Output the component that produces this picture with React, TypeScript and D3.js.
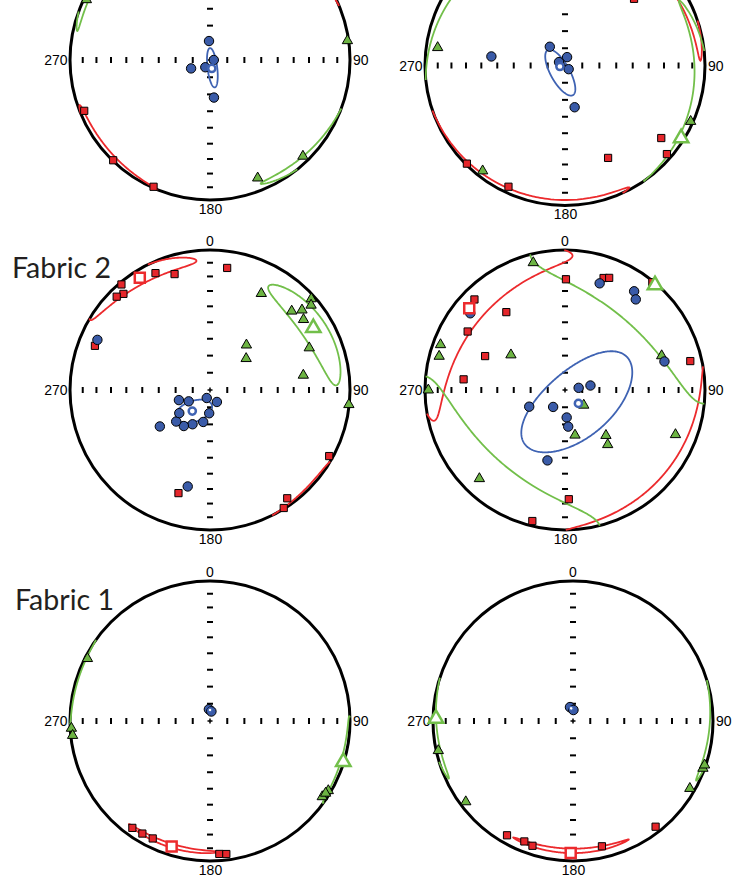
import React from 'react';
import * as d3 from 'd3';

// Each direction is [trend (deg), plunge (deg)], lower-hemisphere equal-area (Schmidt) net.
type TP = [number, number];
// Confidence ellipse: [mean trend, mean plunge, semi-major (deg), semi-minor (deg), major-axis rotation (deg)]
type Ell = [number, number, number, number, number];

// ---------- Panel A (top left) ----------
const kmaxA: TP[] = [[248, 3.5], [224, 0.5], [204, 1]];
const kintA: TP[] = [[82, 1], [136, 5], [158, 10], [296, 2]];
const kminA: TP[] = [[357, 79], [246, 78], [213, 85], [90, 87.8], [174, 68]];
const meanKmaxA: TP[] = [];
const meanKintA: TP[] = [];
const meanKminA: TP[] = [[168, 85]];
const ellKmaxA: Ell = [226, 0.5, 25, 3, 3];
const ellKintA: Ell = [310, -1, 28, 3, -9];
const ellKminA: Ell = [163, 85.3, 11.5, 2.8, -80];

// ---------- Panel B (top right) ----------
const kmaxB: TP[] = [[46, 32], [127, 15], [131, 4], [155, 28], [225, 1], [205, 5]];
const kintB: TP[] = [[278, 9], [114, 2], [218, 5]];
const kminB: TP[] = [[321, 76], [277, 46], [14, 85], [300, 86], [135, 87], [167, 65]];
const meanKmaxB: TP[] = [];
const meanKintB: TP[] = [[122, 2.5]];
const meanKminB: TP[] = [[259, 87]];
const ellKmaxB: Ell = [210, -1.75, 58, 5.3, -3.2];
const ellKintB: Ell = [115, 0, 55, 5.5, -8.5];
const ellKminB: Ell = [214, 85, 15, 5.5, 27];

// ---------- Panel C (Fabric 2, left) ----------
const kmaxC: TP[] = [[8, 13], [343, 14.5], [335, 8.7], [320, 1.8], [318, 8.4], [315, 6.4], [291, 13], [197, 24], [119, 3], [144.5, 5.6], [148, 0.7]];
const kintC: TP[] = [[28, 23], [46, 20], [49, 14], [53, 17.5], [48, 3], [50, 6.4], [67, 24], [81, 33], [39, 56], [49, 62], [96, 0.3]];
const kminC: TP[] = [[252, 71], [242, 76], [202, 85], [150, 82], [182, 76.5], [192, 71], [207, 67.6], [216, 64], [227, 63], [233, 67.6], [234, 53.5], [193, 30], [294, 13]];
const meanKmaxC: TP[] = [[328, 6]];
const meanKintC: TP[] = [[59, 15]];
const meanKminC: TP[] = [[220, 74]];
const ellKmaxC: Ell = [327, 5, 27, 6, 8];
const ellKintC: Ell = [59, 15, 28.5, 9, -6];
const ellKminC: Ell = [217, 74.5, 11, 6, -57];

// ---------- Panel D (Fabric 2, right) ----------
const kmaxD: TP[] = [[0.5, 22], [19, 16.5], [21.5, 15], [39, 1], [315, 9.4], [323, 31], [301, 20], [293, 38], [276, 28], [77, 9], [178, 23], [194, 4]];
const kintD: TP[] = [[346, 7], [290, 6], [285, 7.7], [303, 52], [70.5, 27.6], [270, 2.7], [129, 76], [167.5, 63], [138, 54], [142, 49], [112, 16], [224, 13]];
const kminD: TP[] = [[18, 21], [35, 15], [38, 19], [309, 14], [74, 27], [81, 82], [80, 75], [245, 67], [215, 78], [176.5, 74], [175, 68.6], [194, 47]];
const meanKmaxD: TP[] = [[310.5, 11]];
const meanKintD: TP[] = [[40.6, 1.4]];
const meanKminD: TP[] = [[135, 79]];
const ellKmaxD: Ell = [310, 7, 53, 15, 0];
const ellKintD: Ell = [40.6, 1.4, 55, 33, 0];
const ellKminD: Ell = [135, 79, 39.5, 19.5, 4.5];

// ---------- Panel E (Fabric 1, left) ----------
const kmaxE: TP[] = [[216, 6.3], [211, 6.9], [206, 7.4], [176, 5.4], [173, 4.8]];
const kintE: TP[] = [[297, 2], [267, 1], [264, 1.5], [124, 3.7], [120.5, 2.2], [122, 3]];
const kminE: TP[] = [[355, 83.2], [8, 84.4]];
const meanKmaxE: TP[] = [[197, 7]];
const meanKintE: TP[] = [[107, 0.5]];
const meanKminE: TP[] = [[0, 83.6]];
const ellKmaxE: Ell = [197, 7.5, 21, 1.5, 0];
const ellKintE: Ell = [107, 0.5, 19, 2, 0];
const ellKminE: Ell = [0, 83.6, 2.2, 1.6, 0];

// ---------- Panel F (Fabric 1, right) ----------
const kmaxF: TP[] = [[210, 6.4], [202, 8], [198, 7], [167, 9], [142, 4.7]];
const kintF: TP[] = [[257.6, 1.7], [233, 4.6], [120, 4.1], [110, 1.4], [108.5, 1]];
const kminF: TP[] = [[348, 81.8], [2, 83.6]];
const meanKmaxF: TP[] = [[181, 6.4]];
const meanKintF: TP[] = [[271, 2.4]];
const meanKminF: TP[] = [[352, 82.6]];
const ellKmaxF: Ell = [181, 8, 26, 1.7, 0];
const ellKintF: Ell = [270.5, 0, 25.5, 2.5, -6];
const ellKminF: Ell = [352, 82.6, 2.6, 1.4, 45];

// ---------- Labels ----------
const dirLabels = ['0', '90', '180', '270'];
const tickPlunges = [80, 70, 60, 50, 40, 30, 20, 10];
const fabricLabels = ['Fabric 2', 'Fabric 1'];

const panels = [
  { kmax: kmaxA, kint: kintA, kmin: kminA, mKmax: meanKmaxA, mKint: meanKintA, mKmin: meanKminA, eKmax: ellKmaxA, eKint: ellKintA, eKmin: ellKminA },
  { kmax: kmaxB, kint: kintB, kmin: kminB, mKmax: meanKmaxB, mKint: meanKintB, mKmin: meanKminB, eKmax: ellKmaxB, eKint: ellKintB, eKmin: ellKminB },
  { kmax: kmaxC, kint: kintC, kmin: kminC, mKmax: meanKmaxC, mKint: meanKintC, mKmin: meanKminC, eKmax: ellKmaxC, eKint: ellKintC, eKmin: ellKminC },
  { kmax: kmaxD, kint: kintD, kmin: kminD, mKmax: meanKmaxD, mKint: meanKintD, mKmin: meanKminD, eKmax: ellKmaxD, eKint: ellKintD, eKmin: ellKminD },
  { kmax: kmaxE, kint: kintE, kmin: kminE, mKmax: meanKmaxE, mKint: meanKintE, mKmin: meanKminE, eKmax: ellKmaxE, eKint: ellKintE, eKmin: ellKminE },
  { kmax: kmaxF, kint: kintF, kmin: kminF, mKmax: meanKmaxF, mKint: meanKintF, mKmin: meanKminF, eKmax: ellKmaxF, eKint: ellKintF, eKmin: ellKminF },
];

// layout (net centres) and per-panel small-mean flag
const layout: { cx: number; cy: number; smallMean: boolean }[] = [
  { cx: 210, cy: 60, smallMean: false },
  { cx: 565, cy: 65.5, smallMean: false },
  { cx: 210, cy: 390, smallMean: false },
  { cx: 565, cy: 390, smallMean: false },
  { cx: 210, cy: 721, smallMean: true },
  { cx: 573, cy: 721, smallMean: true },
];
const fabricPos = [
  { x: 12, y: 278 },
  { x: 15, y: 610 },
];

const R = 140;
const DEG = Math.PI / 180;
// equal-area radius: r = R * sqrt(1 - sin(plunge))
const rScale = d3.scaleSqrt().domain([0, 1]).range([0, R]);

const C_BLUE = '#3a5ba8';
const C_BLUE_L = '#3f63b3';
const C_RED = '#e5262b';
const C_RED_L = '#ec2a2d';
const C_GREEN = '#6db443';
const C_GREEN_L = '#72bf4a';

function toVec([t, p]: TP): number[] {
  return [Math.cos(p * DEG) * Math.sin(t * DEG), Math.cos(p * DEG) * Math.cos(t * DEG), Math.sin(p * DEG)];
}

function projVec(q: number[], flip?: boolean): [number, number] {
  let [x, y, z] = q;
  const f = flip === undefined ? z < 0 : flip;
  if (f) { x = -x; y = -y; z = -z; }
  const h = Math.hypot(x, y);
  const r = rScale(Math.max(0, Math.min(1, 1 - z)));
  if (h < 1e-9) return [0, 0];
  return [(r * x) / h, (-r * y) / h];
}

const proj = (tp: TP) => projVec(toVec(tp));

function ellipseRuns(e: Ell, n = 480): { pts: [number, number][]; closed: boolean }[] {
  const [t, p, a, b, psi] = e;
  const T = t * DEG, P = p * DEG, S = psi * DEG;
  const m = toVec([t, p]);
  const u = [-Math.sin(P) * Math.sin(T), -Math.sin(P) * Math.cos(T), Math.cos(P)];
  const v = [Math.cos(T), -Math.sin(T), 0];
  const ea = [0, 1, 2].map((i) => Math.cos(S) * v[i] + Math.sin(S) * u[i]);
  const eb = [0, 1, 2].map((i) => -Math.sin(S) * v[i] + Math.cos(S) * u[i]);
  const qs: number[][] = [];
  for (let k = 0; k < n; k++) {
    const f = (2 * Math.PI * k) / n;
    const th = ((a * b) / Math.hypot(b * Math.cos(f), a * Math.sin(f))) * DEG;
    qs.push([0, 1, 2].map((i) => Math.cos(th) * m[i] + Math.sin(th) * (Math.cos(f) * ea[i] + Math.sin(f) * eb[i])));
  }
  const up = (q: number[]) => q[2] < 0;
  let start = -1;
  for (let k = 0; k < n; k++) {
    if (up(qs[k]) !== up(qs[(k + n - 1) % n])) { start = k; break; }
  }
  if (start < 0) {
    const fl = up(qs[0]);
    return [{ pts: qs.map((q) => projVec(q, fl)), closed: true }];
  }
  const cross = (q1: number[], q2: number[]) => {
    const s = q1[2] / (q1[2] - q2[2]);
    const c = q1.map((x, i) => x + s * (q2[i] - x));
    c[2] = 0;
    return c;
  };
  const runs: number[][][] = [];
  let cur: number[][] = [cross(qs[(start + n - 1) % n], qs[start])];
  for (let j = 0; j < n; j++) {
    const k = (start + j) % n;
    const k2 = (k + 1) % n;
    cur.push(qs[k]);
    if (up(qs[k]) !== up(qs[k2])) {
      const c = cross(qs[k], qs[k2]);
      cur.push(c);
      runs.push(cur);
      cur = [c];
    }
  }
  return runs.map((r) => {
    const fl = up(r[1]);
    return { pts: r.map((q) => projVec(q, fl)), closed: false };
  });
}

const lineGen = d3.line<[number, number]>();

function EllipsePath({ e, color }: { e: Ell; color: string }) {
  const runs = ellipseRuns(e);
  return (
    <g>
      {runs.map((r, i) => (
        <path key={i} d={(lineGen(r.pts) || '') + (r.closed ? 'Z' : '')} fill="none" stroke={color} strokeWidth={1.8} strokeLinejoin="round" />
      ))}
    </g>
  );
}

const VIEW_H = 882;

export default function App() {
  const triPath = d3.symbol().type(d3.symbolTriangle).size(46)() || '';
  const triMeanPath = d3.symbol().type(d3.symbolTriangle).size(90)() || '';
  const sqPath = d3.symbol().type(d3.symbolSquare).size(52)() || '';
  const sqMeanPath = d3.symbol().type(d3.symbolSquare).size(100)() || '';
  const font = '"Liberation Sans", Arial, Helvetica, sans-serif';

  return (
    <div style={{ position: 'absolute', left: 0, top: 0 }}>
      <svg width={733} height={VIEW_H} style={{ display: 'block', background: '#fff' }}>
        {fabricLabels.map((lab, i) => (
          <text key={lab} x={fabricPos[i].x} y={fabricPos[i].y} fontFamily="Lato, 'Open Sans', sans-serif" fontSize={29} fill="#231f20" textLength={99} lengthAdjust="spacingAndGlyphs">
            {lab}
          </text>
        ))}
        {panels.map((pn, i) => {
          const { cx, cy, smallMean } = layout[i];
          const tickR = tickPlunges.map((p) => rScale(1 - Math.sin(p * DEG)));
          const topLabelY = -R - 4.5;
          const showTop = cy + topLabelY - 11 >= 0;
          return (
            <g key={i} transform={`translate(${cx},${cy})`}>
              <circle r={R} fill="none" stroke="#000" strokeWidth={3} />
              {tickR.map((rr, k) => (
                <g key={k} fill="#000">
                  <rect x={rr - 1} y={-3} width={2} height={6} />
                  <rect x={-rr - 1} y={-3} width={2} height={6} />
                  <rect x={-3} y={rr - 1} width={6} height={2} />
                  <rect x={-3} y={-rr - 1} width={6} height={2} />
                </g>
              ))}
              <rect x={-2.5} y={-0.75} width={5} height={1.5} fill="#000" />
              <rect x={-0.75} y={-2.5} width={1.5} height={5} fill="#000" />
              <g fontFamily={font} fontSize={14} fill="#000">
                {showTop && <text x={0} y={topLabelY} textAnchor="middle">{dirLabels[0]}</text>}
                <text x={R + 3} y={5} textAnchor="start">{dirLabels[1]}</text>
                <text x={0.5} y={R + 13.5} textAnchor="middle">{dirLabels[2]}</text>
                <text x={-R - 2.5} y={5} textAnchor="end">{dirLabels[3]}</text>
              </g>
              <EllipsePath e={pn.eKmax} color={C_RED_L} />
              <EllipsePath e={pn.eKint} color={C_GREEN_L} />
              <EllipsePath e={pn.eKmin} color={C_BLUE_L} />
              {pn.kmax.map((d, k) => {
                const [x, y] = proj(d);
                return <path key={'s' + k} d={sqPath} transform={`translate(${x},${y})`} fill={C_RED} stroke="#000" strokeWidth={1} />;
              })}
              {pn.kint.map((d, k) => {
                const [x, y] = proj(d);
                return <path key={'t' + k} d={triPath} transform={`translate(${x},${y})`} fill={C_GREEN} stroke="#000" strokeWidth={1} />;
              })}
              {pn.kmin.map((d, k) => {
                const [x, y] = proj(d);
                return <circle key={'c' + k} cx={x} cy={y} r={smallMean ? 4.8 : 4.7} fill={C_BLUE} stroke="#000" strokeWidth={1} />;
              })}
              {pn.mKmax.map((d, k) => {
                const [x, y] = proj(d);
                return <path key={'ms' + k} d={sqMeanPath} transform={`translate(${x},${y})`} fill="#fff" stroke={C_RED_L} strokeWidth={2.5} />;
              })}
              {pn.mKint.map((d, k) => {
                const [x, y] = proj(d);
                return <path key={'mt' + k} d={triMeanPath} transform={`translate(${x},${y})`} fill="#fff" stroke={C_GREEN_L} strokeWidth={2.5} strokeLinejoin="miter" />;
              })}
              {pn.mKmin.map((d, k) => {
                const [x, y] = proj(d);
                return <circle key={'mc' + k} cx={x} cy={y} r={smallMean ? 2 : 3.6} fill="#fff" stroke={C_BLUE_L} strokeWidth={smallMean ? 1.4 : 2.5} />;
              })}
            </g>
          );
        })}
      </svg>
    </div>
  );
}
